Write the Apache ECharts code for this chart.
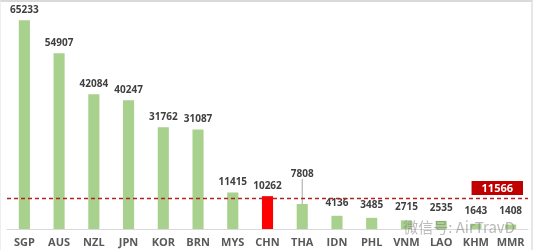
<!DOCTYPE html>
<html><head><meta charset="utf-8">
<style>html,body{margin:0;padding:0;background:#fff}#c{width:533px;height:250px;box-sizing:border-box;border-top:2px solid #d9d9d9;border-right:2px solid #e6e6e6;border-left:1px solid #eee}</style>
<script src="https://cdn.jsdelivr.net/npm/echarts@6/dist/echarts.min.js"></script>
</head><body><div id="c"></div>
<script>
const categories = ['SGP','AUS','NZL','JPN','KOR','BRN','MYS','CHN','THA','IDN','PHL','VNM','LAO','KHM','MMR'];
const values = [65233,54907,42084,40247,31762,31087,11415,10262,7808,4136,3485,2715,2535,1643,1408];
const highlight = 'CHN';
const liftedLabel = 'THA';
const refLineLevel = 9700;   // position of dashed line
const refLineLabel = '11566';
const watermark = '微信号: AirTravD';

const chart = echarts.init(document.getElementById('c'));
const font = '"Open Sans","Noto Sans",sans-serif';
chart.setOption({
  animation:false,
  grid:{left:6,right:3,top:3,bottom:21},
  xAxis:{type:'category',data:categories,
    axisLine:{lineStyle:{color:'#d9d9d9',width:1}},axisTick:{show:false},
    axisLabel:{interval:0,color:'#595959',fontSize:11,fontWeight:'bold',fontFamily:font,margin:8}},
  yAxis:{type:'value',min:0,max:70000,show:false,splitLine:{show:false}},
  series:[{type:'bar',barWidth:'32%',
    data:values.map((v,i)=>{
      const it={value:v,itemStyle:{color:categories[i]===highlight?'#ff0000':'#a9d18e'}};
      if(categories[i]===liftedLabel){it.labelLine={show:true,lineStyle:{color:'#a6a6a6',width:1}};}
      else if(v<5000){it.label={distance:8};}
      return it;}),
    label:{show:true,position:'top',distance:5,color:'#404040',fontSize:10,fontWeight:'bold',fontFamily:font},
    labelLine:{show:false},
    labelLayout:function(p){ if(categories[p.dataIndex]===liftedLabel) return {dy:-20}; return {}; },
    markLine:{symbol:'none',silent:true,
      lineStyle:{color:'#b22222',type:[4,3],width:1.3},
      label:{show:true,position:'insideEndTop',formatter:refLineLabel,color:'#fff',fontWeight:'bold',fontSize:11,fontFamily:font,
        backgroundColor:'#c00000',padding:[2,10,1,10],distance:[5,3]},
      data:[{yAxis:refLineLevel}]}
  }],
  graphic:[{type:'text',right:16,bottom:15,z:10,style:{text:watermark,fill:'rgba(120,120,120,0.5)',font:'15px "Noto Sans CJK SC",sans-serif'}}]
});
</script></body></html>
